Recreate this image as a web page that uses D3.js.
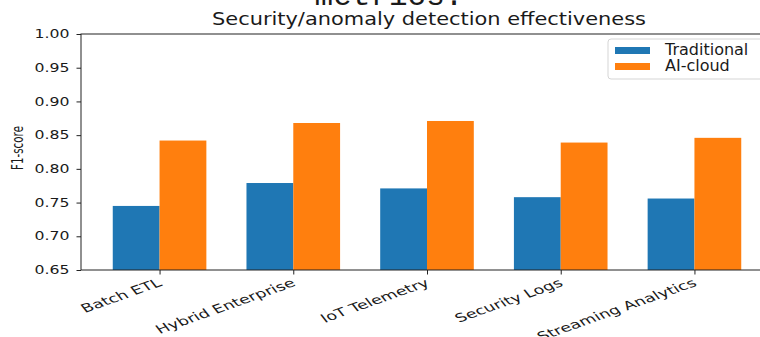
<!DOCTYPE html>
<html>
<head>
<meta charset="utf-8">
<script src="https://cdn.jsdelivr.net/npm/d3@7"></script>
<style>
  html, body { margin: 0; padding: 0; background: #fff; }
  svg { display: block; }
</style>
</head>
<body>
<svg id="chart" width="760" height="337"></svg>
<script>
// Workload categories and F1-scores per approach
const categories = ["Batch ETL", "Hybrid Enterprise", "IoT Telemetry", "Security Logs", "Streaming Analytics"];
const traditional = [0.745, 0.779, 0.771, 0.758, 0.756];
const aiCloud = [0.842, 0.868, 0.871, 0.839, 0.846];
const seriesNames = ["Traditional", "AI-cloud"];
const seriesColors = ["#1f77b4", "#ff7f0e"];
const yTicks = [0.65, 0.70, 0.75, 0.80, 0.85, 0.90, 0.95, 1.00];

const svg = d3.select("#chart")
  .style("font-family", "'DejaVu Sans', sans-serif");
const plotLeft = 81, plotRight = 773, plotTop = 34, plotBottom = 270;
const barWidth = 0.35;
const ink = "#1a1a1a";

const x = d3.scaleLinear().domain([-0.5875, categories.length - 1 + 0.5875]).range([plotLeft, plotRight]);
const y = d3.scaleLinear().domain([0.65, 1.00]).range([plotBottom, plotTop]);

// Bars
const series = [traditional, aiCloud];
series.forEach((vals, s) => {
  const offset = (s - 0.5) * barWidth;
  svg.append("g").selectAll("rect")
    .data(vals)
    .join("rect")
    .attr("x", (d, i) => x(i + offset - barWidth / 2))
    .attr("width", x(barWidth) - x(0))
    .attr("y", d => y(d))
    .attr("height", d => y(0.65) - y(d))
    .attr("fill", seriesColors[s]);
});

// Frame
svg.append("rect")
  .attr("x", plotLeft).attr("y", plotTop)
  .attr("width", plotRight - plotLeft).attr("height", plotBottom - plotTop)
  .attr("fill", "none").attr("stroke", "#222").attr("stroke-width", 1);

// Y axis
const yAxis = d3.axisLeft(y).tickValues(yTicks).tickFormat(d3.format(".2f")).tickSize(4.5).tickPadding(7);
const gy = svg.append("g").attr("transform", `translate(${plotLeft},0)`).call(yAxis);
gy.select(".domain").remove();
gy.selectAll(".tick line").attr("stroke", "#222");
gy.selectAll(".tick text")
  .style("font-family", "'DejaVu Sans', sans-serif")
  .style("font-size", "11.5px")
  .attr("fill", ink)
  .attr("textLength", 35)
  .attr("lengthAdjust", "spacingAndGlyphs");

// X axis
const xAxis = d3.axisBottom(x).tickValues(d3.range(categories.length)).tickFormat(i => categories[i]).tickSize(4.5);
const gx = svg.append("g").attr("transform", `translate(0,${plotBottom})`).call(xAxis);
gx.select(".domain").remove();
gx.selectAll(".tick line").attr("stroke", "#222");
gx.selectAll(".tick text")
  .style("font-family", "'DejaVu Sans', sans-serif")
  .style("font-size", "11.8px")
  .attr("fill", ink)
  .attr("text-anchor", "end")
  .attr("x", 0).attr("y", 0).attr("dy", "0.71em")
  .attr("transform", "translate(-3,8) scale(1.5,1) rotate(-28)");

// Y axis label
svg.append("text")
  .attr("transform", `translate(23,148) rotate(-90)`)
  .attr("text-anchor", "middle")
  .style("font-size", "15px")
  .attr("fill", ink)
  .attr("textLength", 44)
  .attr("lengthAdjust", "spacingAndGlyphs")
  .text("F1-score");

// Titles
svg.append("text")
  .attr("x", 389).attr("y", 5)
  .attr("text-anchor", "middle")
  .style("font-family", "'Liberation Mono', 'DejaVu Sans Mono', monospace")
  .style("font-size", "31px")
  .attr("fill", ink)
  .text("metrics.");

svg.append("text")
  .attr("x", 429).attr("y", 25)
  .attr("text-anchor", "middle")
  .style("font-size", "17px")
  .attr("fill", ink)
  .attr("textLength", 434)
  .attr("lengthAdjust", "spacingAndGlyphs")
  .text("Security/anomaly detection effectiveness");

// Legend
const lg = svg.append("g").attr("transform", "translate(608,39)");
lg.append("rect")
  .attr("width", 160).attr("height", 40).attr("rx", 3)
  .attr("fill", "#fff").attr("fill-opacity", 0.8)
  .attr("stroke", "#d5d5d5");
seriesNames.forEach((name, s) => {
  lg.append("rect")
    .attr("x", 7).attr("y", 8 + s * 16)
    .attr("width", 35).attr("height", 7)
    .attr("fill", seriesColors[s]);
  lg.append("text")
    .attr("x", 57).attr("y", 16 + s * 16)
    .style("font-size", "16px")
    .attr("fill", ink)
    .text(name);
});
</script>
</body>
</html>
